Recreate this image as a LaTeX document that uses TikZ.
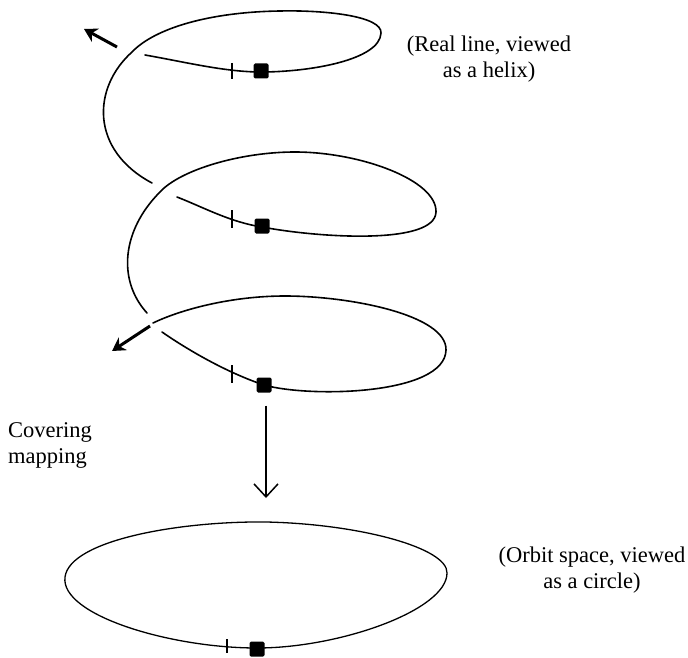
\documentclass[tikz,border=0pt]{standalone}
\usepackage{fontspec}
\setmainfont{Liberation Serif}
\usetikzlibrary{arrows.meta}

\tikzset{
  helix/.style={line width=1.6pt, line cap=round},
  orbit/.style={line width=1.3pt},
  tickln/.style={line width=1.3pt},
  basept/.style={fill=black, inner sep=0pt, minimum size=15pt, rounded corners=1.5pt},
  endarrow/.style={line width=3pt, -{Stealth[length=13pt,width=15pt]}},
  cover/.style={line width=1.5pt, -{Straight Barb[length=13pt,width=24pt,line width=1.5pt]}},
  caption/.style={font=\fontsize{22.5}{26}\selectfont, align=center, inner sep=0pt}
}

\begin{document}
\begin{tikzpicture}[x=1pt,y=-1pt]
\useasboundingbox (0,0) rectangle (688,658);
% Top turn of the helix, front line first, then round the back and down the left
\draw[helix] (145,55) .. controls (185,62) and (225,72) .. (261,72)
  .. controls (310,72) and (380,60) .. (381,33)
  .. controls (382,16) and (325,10) .. (280,11)
  .. controls (210,12) and (155,28) .. (132,52)
  .. controls (92,88) and (90,150) .. (152,183);
% Middle turn
\draw[helix] (177,197) .. controls (205,208) and (230,222) .. (262,227)
  .. controls (320,238) and (435,245) .. (436,212)
  .. controls (437,180) and (360,152) .. (295,152)
  .. controls (240,152) and (180,170) .. (160,192)
  .. controls (122,230) and (117,280) .. (147,313);
% Bottom turn
\draw[helix] (162,332) .. controls (185,348) and (225,372) .. (264,385)
  .. controls (310,398) and (445,395) .. (446,350)
  .. controls (447,315) and (350,296) .. (285,296)
  .. controls (230,296) and (180,310) .. (153,323);
% Helix goes on both ways
\coordinate (uptail) at (117,47);
\coordinate (uptip) at (84,29);
\draw[endarrow] (uptail) -- (uptip);
\coordinate (downtail) at (150,326);
\coordinate (downtip) at (112,351);
\draw[endarrow] (downtail) -- (downtip);
% Ticks and base points on each turn
\coordinate (t1) at (232,71);
\draw[tickln] (t1) ++(0,-8) -- ++(0,16);
\node[basept] (sq1) at (261,71) {};
\coordinate (t2) at (232,219);
\draw[tickln] (t2) ++(0,-9) -- ++(0,18);
\node[basept] (sq2) at (262,226) {};
\coordinate (t3) at (232,374);
\draw[tickln] (t3) ++(0,-9) -- ++(0,18);
\node[basept] (sq3) at (264,385) {};
% Orbit space
\coordinate (circtop) at (266,522);
\draw[orbit] (65,577) .. controls (70,540) and (180,521) .. (circtop)
  .. controls (360,524) and (448,548) .. (447,573)
  .. controls (447,610) and (340,648) .. (257,648)
  .. controls (170,648) and (60,615) .. (65,577) -- cycle;
\coordinate (t4) at (227,646);
\draw[tickln] (t4) ++(0,-7) -- ++(0,14);
\node[basept] (sq4) at (257,649) {};
% Covering map
\draw[cover, shorten <=13pt, shorten >=24pt] (sq3.south -| circtop) -- (circtop);
% Labels
\node[caption] (helixlabel) at (489,59) {(Real line, viewed\\as a helix)};
\node[caption, align=left, anchor=west] (maplabel) at (8,445) {Covering\\mapping};
\node[caption] (orbitlabel) at (592,570) {(Orbit space, viewed\\as a circle)};
\end{tikzpicture}
\end{document}
